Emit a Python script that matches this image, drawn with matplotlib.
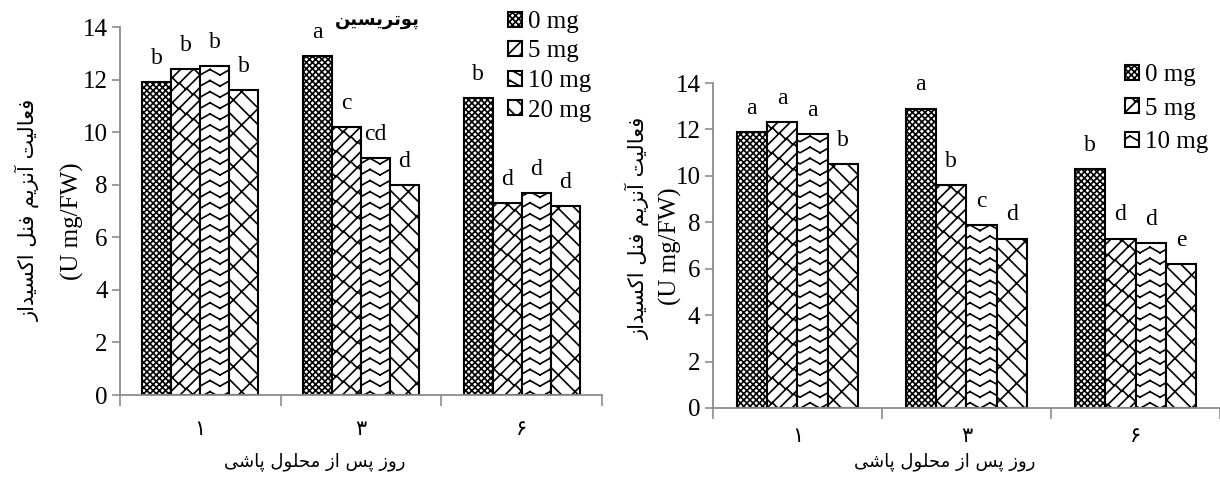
import warnings
import numpy as np
import matplotlib
matplotlib.use("Agg")
import matplotlib.pyplot as plt
from matplotlib import hatch as mhatch
from matplotlib.path import Path

warnings.filterwarnings("ignore")

# ---- data -------------------------------------------------------------
days = ["۱", "۳", "۶"]
doses_left = ["0 mg", "5 mg", "10 mg", "20 mg"]
doses_right = ["0 mg", "5 mg", "10 mg"]

left_vals = [[11.9, 12.9, 11.3],   # 0 mg
             [12.4, 10.2, 7.3],    # 5 mg
             [12.5, 9.0, 7.7],     # 10 mg
             [11.6, 8.0, 7.2]]     # 20 mg
left_letters = [["b", "a", "b"],
                ["b", "c", "d"],
                ["b", "cd", "d"],
                ["b", "d", "d"]]

right_vals = [[11.9, 12.9, 10.3],
              [12.3, 9.6, 7.3],
              [11.8, 7.9, 7.1],
              [10.5, 7.3, 6.2]]
right_letters = [["a", "a", "b"],
                 ["a", "b", "d"],
                 ["a", "c", "d"],
                 ["b", "d", "e"]]

ylabel_fa = "فعالیت آنزیم فنل اکسیداز"
ylabel_unit = "(U mg/FW)"
xlabel_fa = "روز پس از محلول پاشی"
title_fa = "پوتریسین"


# ---- simple Persian shaping (matplotlib has no complex text layout) ----
FORMS = {  # isolated, final, initial, medial
    "ا": ("\uFE8D", "\uFE8E", None, None),
    "آ": ("\uFE81", "\uFE82", None, None),
    "پ": ("\uFB56", "\uFB57", "\uFB58", "\uFB59"),
    "ت": ("\uFE95", "\uFE96", "\uFE97", "\uFE98"),
    "ح": ("\uFEA1", "\uFEA2", "\uFEA3", "\uFEA4"),
    "د": ("\uFEA9", "\uFEAA", None, None),
    "ر": ("\uFEAD", "\uFEAE", None, None),
    "ز": ("\uFEAF", "\uFEB0", None, None),
    "س": ("\uFEB1", "\uFEB2", "\uFEB3", "\uFEB4"),
    "ش": ("\uFEB5", "\uFEB6", "\uFEB7", "\uFEB8"),
    "ع": ("\uFEC9", "\uFECA", "\uFECB", "\uFECC"),
    "ف": ("\uFED1", "\uFED2", "\uFED3", "\uFED4"),
    "ک": ("\uFB8E", "\uFB8F", "\uFB90", "\uFB91"),
    "ل": ("\uFEDD", "\uFEDE", "\uFEDF", "\uFEE0"),
    "م": ("\uFEE1", "\uFEE2", "\uFEE3", "\uFEE4"),
    "ن": ("\uFEE5", "\uFEE6", "\uFEE7", "\uFEE8"),
    "و": ("\uFEED", "\uFEEE", None, None),
    "ی": ("\uFBFC", "\uFBFD", "\uFBFE", "\uFBFF"),
}


def fa(text):
    out = []
    for i, ch in enumerate(text):
        f = FORMS.get(ch)
        if f is None:
            out.append(ch)
            continue
        prev = text[i - 1] if i > 0 else ""
        nxt = text[i + 1] if i + 1 < len(text) else ""
        jp = prev in FORMS and FORMS[prev][2] is not None
        jn = f[2] is not None and nxt in FORMS
        out.append(f[3] if (jp and jn) else f[1] if jp else f[2] if jn else f[0])
    return "".join(reversed(out))


# ---- custom hatch patterns (Excel-like) -------------------------------
# agg fills the hatch path as well as stroking it, so every pattern is
# written as separate two-point segments
class SegHatch(mhatch.HatchPatternBase):
    char = None

    def __init__(self, hatch, density):
        self.segs = self.make() if hatch.count(self.char) else np.empty((0, 2))
        self.num_vertices = len(self.segs)

    def set_vertices_and_codes(self, vertices, codes):
        vertices[:] = self.segs
        codes[0::2] = Path.MOVETO
        codes[1::2] = Path.LINETO


class CrossHatch(SegHatch):
    # dense diagonal lattice (white dots on dark)
    char, m = "q", 16

    def make(self):
        segs = []
        for k in range(-self.m, self.m + 1):
            c = k / self.m
            segs += [(0, c), (1, 1 + c)]
            segs += [(0, 1 - c), (1, -c)]
        return np.array(segs, dtype=float)


class ZigZagHatch(SegHatch):
    char, rows, per, amp = "z", 9, 5, 0.028

    def make(self):
        segs = []
        xs = np.linspace(0, 1, 2 * self.per + 1)
        for r in range(self.rows):
            y0 = (r + 0.5) / self.rows
            ys = y0 + np.where(np.arange(len(xs)) % 2 == 0, -self.amp, self.amp)
            for j in range(len(xs) - 1):
                segs += [(xs[j], ys[j]), (xs[j + 1], ys[j + 1])]
        return np.array(segs, dtype=float)


class BrickHatch(SegHatch):
    char, n, p, mirror = "b", 8, 7, False

    def make(self):
        n, p = self.n, self.p
        segs = []
        for k in range(-n, n):
            c = k / n
            segs += [(0, c), (1, 1 + c)]
            for m in range(p + 1):
                t = (m + 0.5 * (k % 2)) / p
                segs += [(t, t + c), (t - 0.5 / n, t + c + 0.5 / n)]
        v = np.array(segs, dtype=float)
        if self.mirror:
            v[:, 0] = 1 - v[:, 0]
        return v


class ShingleHatch(BrickHatch):
    char, n, p, mirror = "d", 6, 6, True


mhatch._hatch_types.extend([CrossHatch, ZigZagHatch, BrickHatch, ShingleHatch])
hatches = ["q", "b", "z", "d"]

# ---- style ------------------------------------------------------------
plt.rcParams["font.family"] = ["Liberation Serif", "DejaVu Sans"]
plt.rcParams["hatch.linewidth"] = 1.2
plt.rcParams["hatch.color"] = "black"
gray = "#8c8c8c"
W, H = 1220, 478

fig = plt.figure(figsize=(W / 100, H / 100), dpi=100)


def fx(px):
    return px / W


def fy(py):
    return 1 - py / H


def panel(rect, vals, letters, labels, leg_xy, leg_space, tick_pad,
          ylab_pos, unit_pos, xlab_pos):
    ax = fig.add_axes(rect)
    x = np.arange(len(days))
    w = 0.18
    bars = []
    for i, v in enumerate(vals):
        pos = x + (i - 1.5) * w
        b = ax.bar(pos, v, width=w, color="white", edgecolor="black",
                   linewidth=1.5, hatch=hatches[i], zorder=2)
        bars.append(b)
        for xp, yv, lab in zip(pos, v, letters[i]):
            ax.annotate(lab, (xp, yv), xytext=(0, 13), textcoords="offset points",
                        ha="center", va="baseline", fontsize=17)
    ax.set_xlim(-0.5, len(days) - 0.5)
    ax.set_ylim(0, 14)
    ax.set_yticks(np.arange(0, 15, 2))
    ax.set_xticks(np.arange(len(days) + 1) - 0.5)
    ax.set_xticklabels([])
    ax.set_xticks(x, minor=True)
    ax.set_xticklabels(days, minor=True, fontsize=15, family="DejaVu Sans")
    ax.tick_params(axis="x", which="minor", length=0, pad=tick_pad)
    ax.tick_params(axis="x", which="major", length=8, width=1.2, color=gray)
    ax.tick_params(axis="y", length=6, width=1.2, color=gray, labelsize=18, pad=3)
    for s in ("top", "right"):
        ax.spines[s].set_visible(False)
    for s in ("left", "bottom"):
        ax.spines[s].set_color(gray)
        ax.spines[s].set_linewidth(1.3)
    ax.legend(bars[:len(labels)], labels, loc="upper left",
              bbox_to_anchor=(fx(leg_xy[0]), fy(leg_xy[1])),
              bbox_transform=fig.transFigure, frameon=False, fontsize=18,
              handlelength=0.55, handleheight=0.55, handletextpad=0.25,
              labelspacing=leg_space, borderpad=0, borderaxespad=0)
    fig.text(fx(ylab_pos[0]), fy(ylab_pos[1]), fa(ylabel_fa), rotation=90,
             ha="center", va="center", fontsize=15, family="DejaVu Sans")
    fig.text(fx(unit_pos[0]), fy(unit_pos[1]), ylabel_unit, rotation=90,
             ha="center", va="center", fontsize=18)
    fig.text(fx(xlab_pos[0]), fy(xlab_pos[1]), fa(xlabel_fa),
             ha="center", va="center", fontsize=13, family="DejaVu Sans")
    return ax


axl = panel([fx(120), fy(395), fx(482), 368 / H], left_vals, left_letters,
            doses_left, (508, 11), 0.3, 17, (28, 210), (72, 221), (315, 462))
fig.text(fx(377), fy(20), fa(title_fa), ha="center", va="center",
         fontsize=13, fontweight="bold", family="DejaVu Sans")

axr = panel([fx(713), fy(408), fx(507), 325 / H], right_vals, right_letters,
            doses_right, (1125, 64), 0.46, 13, (638, 228), (670, 246), (945, 462))

fig.savefig("out.png", dpi=100)
